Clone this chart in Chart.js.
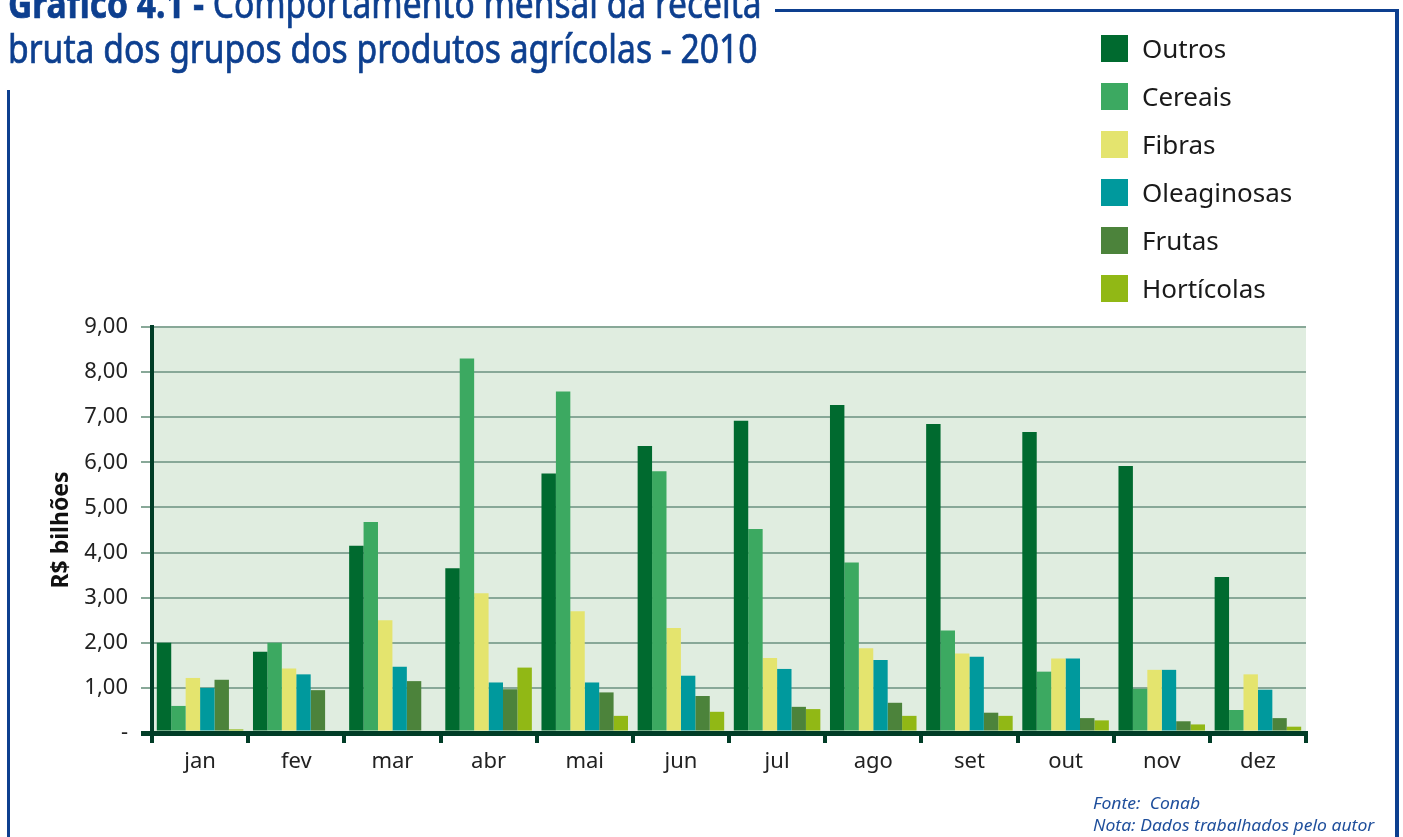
<!DOCTYPE html>
<html>
<head>
<meta charset="utf-8">
<script src="https://cdn.jsdelivr.net/npm/chart.js@4.4.1/dist/chart.umd.min.js"></script>
<style>
body{margin:0;background:#fff;overflow:hidden}
#wrap{position:relative;width:1403px;height:837px}
#canvass{position:absolute;left:0;top:0}
.ttl{position:absolute;left:8px;white-space:nowrap;font-family:"Noto Sans";font-size:40px;line-height:40px;color:#0d3f8f;transform-origin:0 0;-webkit-text-stroke:0.7px #0d3f8f}
.frame{position:absolute;background:#0d3f8f}
#legend{position:absolute;left:1101px;top:24px;font-family:"Noto Sans";font-size:26px;color:#1a1a1a}
#legend div{height:48px;display:flex;align-items:center}
#legend span.sq{display:inline-block;width:27px;height:27px;margin-right:14px}
.note{position:absolute;left:1093px;white-space:nowrap;font-family:"Noto Sans";font-style:italic;font-size:16.5px;line-height:16.5px;color:#1f4f9c;transform-origin:0 0}
</style>
</head>
<body>
<div id="wrap">
<canvas id="canvass" width="1403" height="837"></canvas>
<div class="frame" style="left:7px;top:90px;width:3px;height:747px"></div>
<div class="frame" style="left:775px;top:9px;width:624px;height:3px"></div>
<div class="frame" style="left:1395px;top:9px;width:4px;height:828px"></div>
<div class="ttl" id="t1" style="top:-17px"><b>Gráfico 4.1 -</b> Comportamento mensal da receita</div>
<div class="ttl" id="t2" style="top:28px">bruta dos grupos dos produtos agrícolas - 2010</div>
<div id="legend"></div>
<div class="note" id="n1" style="top:795px">Fonte:&nbsp; Conab</div>
<div class="note" id="n2" style="top:817px">Nota: Dados trabalhados pelo autor</div>
</div>
<script>
var months=['jan','fev','mar','abr','mai','jun','jul','ago','set','out','nov','dez']
var names=['Outros','Cereais','Fibras','Oleaginosas','Frutas','Hortícolas']
var outros=[2.00,1.80,4.15,3.65,5.75,6.36,6.92,7.27,6.85,6.67,5.92,3.46]
var cereais=[0.60,2.00,4.68,8.30,7.57,5.80,4.52,3.78,2.27,1.36,0.98,0.51]
var fibras=[1.22,1.43,2.50,3.10,2.70,2.33,1.66,1.88,1.76,1.65,1.40,1.30]
var oleaginosas=[1.00,1.30,1.47,1.12,1.12,1.27,1.42,1.62,1.69,1.65,1.40,0.96]
var frutas=[1.18,0.95,1.15,0.97,0.90,0.82,0.58,0.67,0.45,0.33,0.26,0.33]
var horticolas=[0.08,null,null,1.45,0.38,0.47,0.53,0.38,0.38,0.28,0.19,0.14]
var yTicks=[0,1,2,3,4,5,6,7,8,9]

var colors=['#006a2f','#3ca961','#e4e46e','#00999d','#4c833b','#91b815']
var series=[outros,cereais,fibras,oleaginosas,frutas,horticolas]
var dark='#013d27'

// squeeze the title lines to the width they have in the picture
function fit(id,w){
 var el=document.getElementById(id)
 el.style.transform='scaleX('+(w/el.offsetWidth)+')'
}
fit('t1',754)
fit('t2',749)
fit('n2',281)
document.getElementById('n1').style.transform=document.getElementById('n2').style.transform

var plotBg={
 id:'plotBg',
 beforeDraw(chart){
  var a=chart.chartArea, c=chart.ctx
  c.save()
  c.fillStyle='#e0ede0'
  c.fillRect(a.left,a.top,a.right-a.left,a.bottom-a.top)
  c.restore()
 }
}

var ctx=document.getElementById('canvass').getContext('2d')
var visual=new Chart(ctx,{
 type:'bar',
 data:{
  labels:months,
  datasets:names.map(function(n,i){
   return {label:n,data:series[i],backgroundColor:colors[i],borderWidth:0,categoryPercentage:0.9,barPercentage:1.0}
  })
 },
 options:{
  responsive:false,
  animation:false,
  layout:{padding:{top:327,right:97,bottom:0,left:0}},
  plugins:{legend:{display:false},tooltip:{enabled:false}},
  scales:{
   x:{
    afterFit(s){s.height=104},
    border:{color:dark,width:5,z:1},
    grid:{drawOnChartArea:false,color:dark,lineWidth:4,tickLength:10,offset:true},
    ticks:{color:'#222',padding:6,font:{family:'Noto Sans',size:22}}
   },
   y:{
    min:0,max:9,
    afterFit(s){s.width=152},
    afterBuildTicks(s){s.ticks=yTicks.map(function(v){return {value:v}})},
    border:{color:dark,width:4},
    grid:{
     color(c){return c.tick&&c.tick.value===0?dark:'#88a898'},
     lineWidth(c){return c.tick&&c.tick.value===0?5:2},
     tickLength:11
    },
    ticks:{
     color:'#222',padding:13,font:{family:'Noto Sans',size:22},
     callback(v){return v===0?'-':v.toFixed(2).replace('.',',')}
    },
    title:{display:true,text:'R$ bilhões',color:'#111',font:{family:'Noto Sans',size:23,weight:'bold'},padding:{top:48}}
   }
  }
 },
 plugins:[plotBg]
})

// legend built from the chart's datasets
var lg=document.getElementById('legend')
visual.data.datasets.forEach(function(d){
 var row=document.createElement('div')
 row.innerHTML='<span class="sq" style="background:'+d.backgroundColor+'"></span>'+d.label
 lg.appendChild(row)
})
</script>
</body>
</html>
